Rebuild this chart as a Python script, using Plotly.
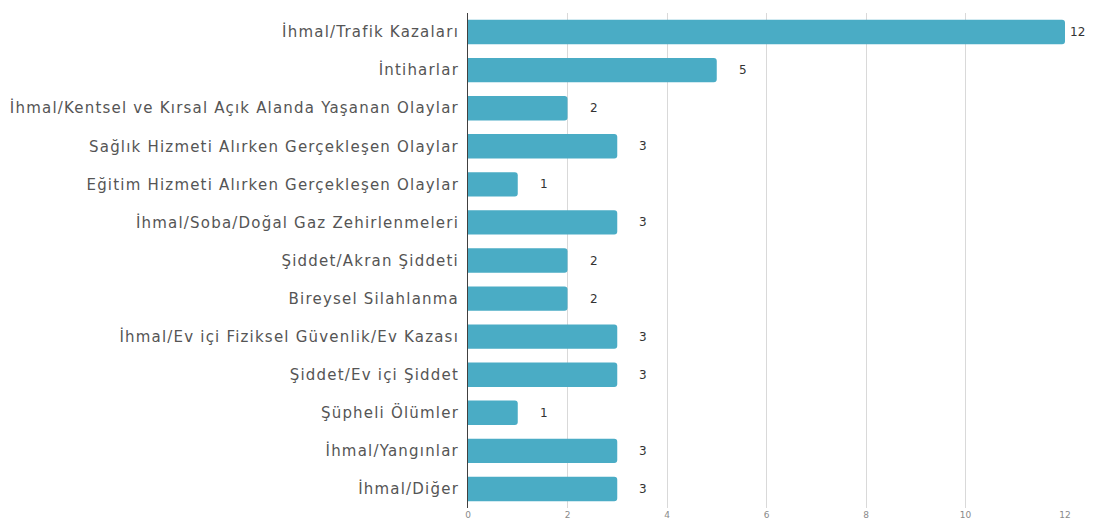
import plotly.graph_objects as go

categories = [
    "İhmal/Trafik Kazaları",
    "İntiharlar",
    "İhmal/Kentsel ve Kırsal Açık Alanda Yaşanan Olaylar",
    "Sağlık Hizmeti Alırken Gerçekleşen Olaylar",
    "Eğitim Hizmeti Alırken Gerçekleşen Olaylar",
    "İhmal/Soba/Doğal Gaz Zehirlenmeleri",
    "Şiddet/Akran Şiddeti",
    "Bireysel Silahlanma",
    "İhmal/Ev içi Fiziksel Güvenlik/Ev Kazası",
    "Şiddet/Ev içi Şiddet",
    "Şüpheli Ölümler",
    "İhmal/Yangınlar",
    "İhmal/Diğer",
]
values = [12, 5, 2, 3, 1, 3, 2, 2, 3, 3, 1, 3, 3]
x_ticks = [0, 2, 4, 6, 8, 10, 12]

BAR_COLOR = "#4aacc5"
FONT = "DejaVu Sans"
BODY_OFFSET = 8  # default browser body margin

fig = go.Figure(
    go.Bar(
        x=values,
        y=categories,
        orientation="h",
        marker=dict(color=BAR_COLOR, cornerradius=3, line=dict(width=0)),
        hoverinfo="x+y",
    )
)

vmax = max(values)
for c, v in zip(categories, values):
    fig.add_annotation(
        x=v, y=c, text=str(v), showarrow=False,
        xanchor="left", yanchor="middle",
        xshift=3 if v == vmax else 20,
        font=dict(family=FONT, size=12, color="#333333"),
    )

y_ticktext = ['<span style="letter-spacing:1.2px">%s</span>' % c for c in categories]

fig.update_layout(
    width=1095 - BODY_OFFSET,
    height=532 - BODY_OFFSET,
    margin=dict(l=468 - BODY_OFFSET, r=30, t=13 - BODY_OFFSET, b=32 - BODY_OFFSET,
                autoexpand=False),
    paper_bgcolor="white",
    plot_bgcolor="white",
    bargap=0.36,
    showlegend=False,
    font=dict(family=FONT, color="#555555"),
    xaxis=dict(
        range=[0, 12],
        tickvals=x_ticks,
        showgrid=True,
        gridcolor="#d9d9d9",
        gridwidth=1,
        zeroline=False,
        showline=False,
        tickfont=dict(size=9, color="#8a8a8a", family=FONT),
        ticks="",
        fixedrange=True,
    ),
    yaxis=dict(
        autorange="reversed",
        tickmode="array",
        tickvals=categories,
        ticktext=y_ticktext,
        showline=True,
        linecolor="#404040",
        linewidth=1,
        ticks="",
        ticklen=0,
        ticklabelstandoff=5,
        tickfont=dict(size=15, color="#555555", family=FONT),
        showgrid=False,
    ),
)

fig.write_html("out.html")
